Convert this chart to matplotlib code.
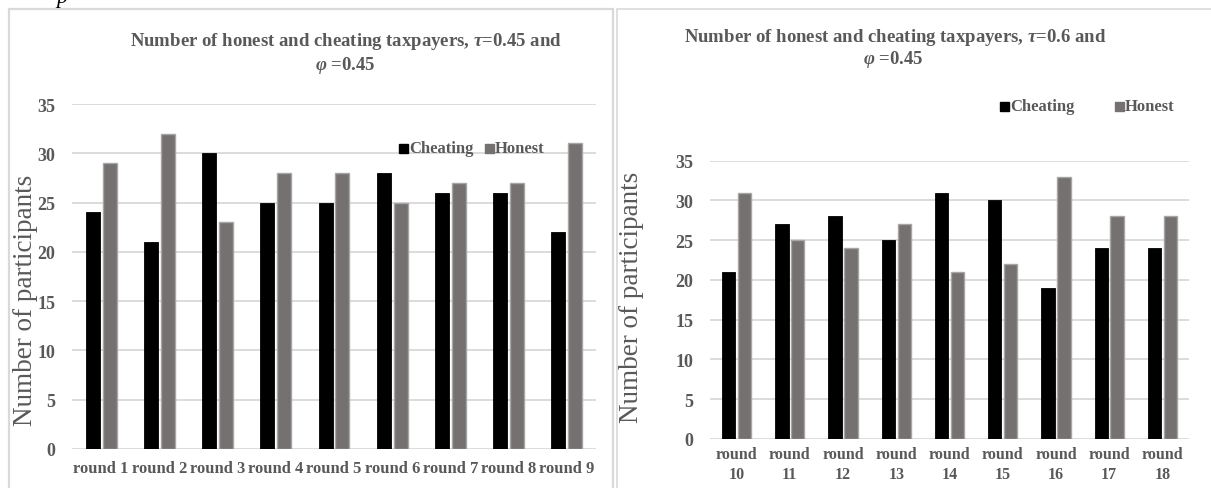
import matplotlib
matplotlib.use("Agg")
import matplotlib.pyplot as plt
import numpy as np
from matplotlib.patches import Rectangle

plt.rcParams["font.family"] = ["Liberation Serif", "DejaVu Serif"]
plt.rcParams["mathtext.fontset"] = "custom"
plt.rcParams["mathtext.it"] = "Liberation Serif:bold:italic"
plt.rcParams["mathtext.rm"] = "Liberation Serif:bold"

# Panel 1: rounds 1-9
rounds_a = ["round 1", "round 2", "round 3", "round 4", "round 5",
            "round 6", "round 7", "round 8", "round 9"]
cheating_a = [24, 21, 30, 25, 25, 28, 26, 26, 22]
honest_a = [29, 32, 23, 28, 28, 25, 27, 27, 31]

# Panel 2: rounds 10-18
rounds_b = ["round\n10", "round\n11", "round\n12", "round\n13", "round\n14",
            "round\n15", "round\n16", "round\n17", "round\n18"]
cheating_b = [21, 27, 28, 25, 31, 30, 19, 24, 24]
honest_b = [31, 25, 24, 27, 21, 22, 33, 28, 28]

yticks = [0, 5, 10, 15, 20, 25, 30, 35]

W, H = 1211, 489
fig = plt.figure(figsize=(W / 100, H / 100), dpi=100)

TEXT = "#595959"
GRID = "#D9D9D9"
HON = "#767171"
HON_EDGE = "#A6A6A6"


def px_axes(x0, x1, y_top, y_bot):
    return fig.add_axes([x0 / W, 1 - y_bot / H, (x1 - x0) / W, (y_bot - y_top) / H])


# chart frames
fig.patches.append(Rectangle((9 / W, -0.1), (613 - 9) / W, 1.1 - 10 / H,
                             transform=fig.transFigure, fill=False,
                             edgecolor=GRID, linewidth=1.6))
fig.patches.append(Rectangle((617 / W, -0.1), 0.5, 1.1 - 10 / H,
                             transform=fig.transFigure, fill=False,
                             edgecolor=GRID, linewidth=1.2))
fig.text(62 / W, 1 + 2 / H, "p", fontsize=16, fontstyle="italic",
         color="#000000", ha="center", va="center")


def draw(ax, cats, cheat, hon, bw, gap, tick_pad, xfs):
    x = np.arange(len(cats))
    off = (bw + gap) / 2
    ax.bar(x - off, cheat, width=bw, color="#000000", edgecolor="#000000",
           linewidth=0.6, label="Cheating", zorder=3)
    ax.bar(x + off, hon, width=bw, color=HON, edgecolor=HON_EDGE,
           linewidth=1.0, label="Honest", zorder=3)
    ax.set_xlim(-0.5, len(cats) - 0.5)
    ax.set_ylim(0, 35)
    ax.set_yticks(yticks)
    ax.set_xticks(x)
    ax.set_xticklabels(cats, fontsize=xfs, fontweight="bold", color=TEXT,
                       linespacing=1.3)
    ax.tick_params(axis="y", labelsize=13, labelcolor=TEXT, length=0, pad=12)
    ax.tick_params(axis="x", length=0, pad=tick_pad)
    for lab in ax.get_yticklabels():
        lab.set_fontweight("bold")
    ax.yaxis.grid(True, color=GRID, linewidth=1.3, zorder=0)
    for s in ax.spines.values():
        s.set_visible(False)
    ax.set_facecolor("none")


ax1 = px_axes(72, 596, 105, 450)
draw(ax1, rounds_a, cheating_a, honest_a, 0.24, 0.05, 8, 12)
ax1.set_ylabel("Number of participants", fontsize=19.5, color=TEXT)
ax1.yaxis.set_label_coords(-0.065, 0.435)

ax2 = px_axes(710, 1189, 161.7, 440)
draw(ax2, rounds_b, cheating_b, honest_b, 0.25, 0.05, 5, 11.5)
ax2.set_ylabel("Number of participants", fontsize=19.5, color=TEXT)
ax2.yaxis.set_label_coords(-0.138, 0.514)

fig.text(346 / W, 1 - 42 / H,
         r"Number of honest and cheating taxpayers, $\tau$=0.45 and",
         fontsize=13.5, fontweight="bold", color=TEXT, ha="center", va="center")
fig.text(345 / W, 1 - 66 / H, r"$\varphi$ =0.45",
         fontsize=13.5, fontweight="bold", color=TEXT, ha="center", va="center")

fig.text(895 / W, 1 - 38 / H,
         r"Number of honest and cheating taxpayers, $\tau$=0.6 and",
         fontsize=13.5, fontweight="bold", color=TEXT, ha="center", va="center")
fig.text(893 / W, 1 - 60 / H, r"$\varphi$ =0.45",
         fontsize=13.5, fontweight="bold", color=TEXT, ha="center", va="center")


# legends: small square key followed by its label
def legend_item(x, y, color, label):
    s = 9
    fig.patches.append(Rectangle((x / W, 1 - (y + s / 2) / H), s / W, s / H,
                                 transform=fig.transFigure, color=color))
    fig.text((x + s + 1) / W, 1 - y / H, label, color=TEXT, fontsize=12,
             fontweight="bold", ha="left", va="center")


legend_item(399, 149, "#000000", "Cheating")
legend_item(485, 149, HON, "Honest")
legend_item(1000, 107, "#000000", "Cheating")
legend_item(1115, 107, HON, "Honest")

fig.savefig("out.png", dpi=100)
